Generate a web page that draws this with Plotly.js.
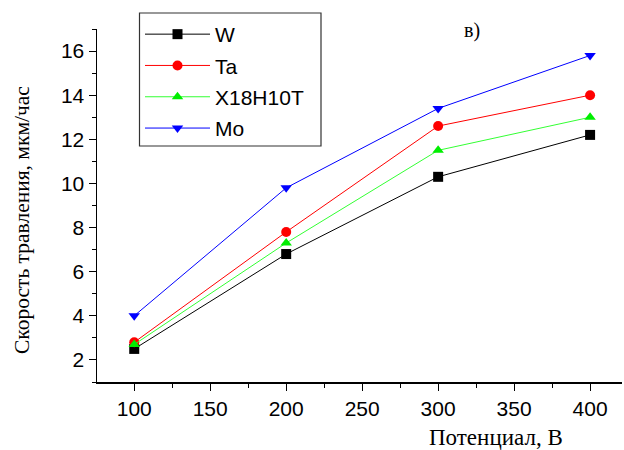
<!DOCTYPE html>
<html>
<head>
<meta charset="utf-8">
<script src="https://cdn.plot.ly/plotly-3.0.1.min.js"></script>
<style>html,body{margin:0;padding:0;background:#fff;}#chart{width:624px;height:450px;}</style>
</head>
<body>
<div id="chart"></div>
<script>
const potential = [100, 200, 300, 400];
const seriesNames = ["W", "Ta", "X18H10T", "Mo"];
const valuesW = [2.5, 6.8, 10.3, 12.2];
const valuesTa = [2.8, 7.8, 12.6, 14.0];
const valuesX18 = [2.7, 7.3, 11.5, 13.0];
const valuesMo = [4.0, 9.8, 13.4, 15.8];
const xTicks = [100, 150, 200, 250, 300, 350, 400];
const yTicks = [2, 4, 6, 8, 10, 12, 14, 16];

const styles = [
  {line: "#000000", marker: "#000000", symbol: "square"},
  {line: "#ff0000", marker: "#ff0000", symbol: "circle"},
  {line: "#33ff33", marker: "#00ee00", symbol: "triangle-up"},
  {line: "#0000ff", marker: "#0000ff", symbol: "triangle-down"}
];
const allValues = [valuesW, valuesTa, valuesX18, valuesMo];

const data = allValues.map((v, i) => ({
  x: potential,
  y: v,
  name: seriesNames[i],
  legendgroup: "g" + i,
  type: "scatter",
  mode: "lines+markers",
  line: {color: styles[i].line, width: 1},
  marker: {color: styles[i].marker, symbol: styles[i].symbol, size: 10}
}));

const sansFam = "Liberation Sans, Arial, sans-serif";
const serifFam = "Liberation Serif, Times New Roman, serif";
const tickFont = {family: sansFam, size: 21, color: "#000"};
const plotL = 97, plotW = 525, plotT = 29, plotH = 353;
const px = (x) => (x - plotL) / plotW;
const py = (y) => (plotT + plotH - y) / plotH;

const layout = {
  width: 624, height: 450,
  margin: {l: plotL, r: 624 - plotL - plotW, t: plotT, b: 450 - plotT - plotH},
  paper_bgcolor: "#fff", plot_bgcolor: "#fff",
  showlegend: true,
  legend: {
    x: px(140), y: py(14), xanchor: "left", yanchor: "top",
    borderwidth: 0, bgcolor: "rgba(0,0,0,0)",
    font: {family: sansFam, size: 21, color: "#000"},
    tracegroupgap: 1, itemwidth: 65
  },
  shapes: [
    {type: "rect", xref: "paper", yref: "paper", x0: px(139.5), x1: px(321), y0: py(13), y1: py(146),
     line: {color: "#333", width: 1.2}, fillcolor: "rgba(255,255,255,0)", layer: "above"}
  ],
  xaxis: {
    range: [75.5, 421], tickvals: xTicks, ticktext: xTicks.map(String),
    ticks: "outside", ticklen: 7, tickcolor: "#000", tickwidth: 1,
    showline: true, linecolor: "#000", linewidth: 1.5, showgrid: false, zeroline: false,
    tickfont: tickFont,
    minor: {tickvals: [125, 175, 225, 275, 325, 375, 425], ticks: "outside", ticklen: 4, tickcolor: "#000", showgrid: false}
  },
  yaxis: {
    range: [1, 17], tickvals: yTicks, ticktext: yTicks.map(String),
    ticks: "outside", ticklen: 7, tickcolor: "#000", tickwidth: 1,
    showline: true, linecolor: "#000", linewidth: 1.5, showgrid: false, zeroline: false,
    tickfont: tickFont,
    minor: {tickvals: [1, 3, 5, 7, 9, 11, 13, 15, 17], ticks: "outside", ticklen: 4, tickcolor: "#000", showgrid: false}
  },
  annotations: [
    {text: "Потенциал, В", xref: "paper", yref: "paper", x: px(495.5), y: py(437), xanchor: "center", yanchor: "middle", showarrow: false,
     font: {family: serifFam, size: 23, color: "#000"}},
    {text: "Скорость травления, мкм/час", xref: "paper", yref: "paper", x: px(22), y: py(220), xanchor: "center", yanchor: "middle", textangle: -90, showarrow: false,
     font: {family: serifFam, size: 21.5, color: "#000"}},
    {text: "в)", xref: "paper", yref: "paper", x: px(472), y: py(30), xanchor: "center", yanchor: "middle", showarrow: false,
     font: {family: serifFam, size: 20, color: "#000"}}
  ]
};

Plotly.newPlot("chart", data, layout, {displayModeBar: false, staticPlot: true});
</script>
</body>
</html>
